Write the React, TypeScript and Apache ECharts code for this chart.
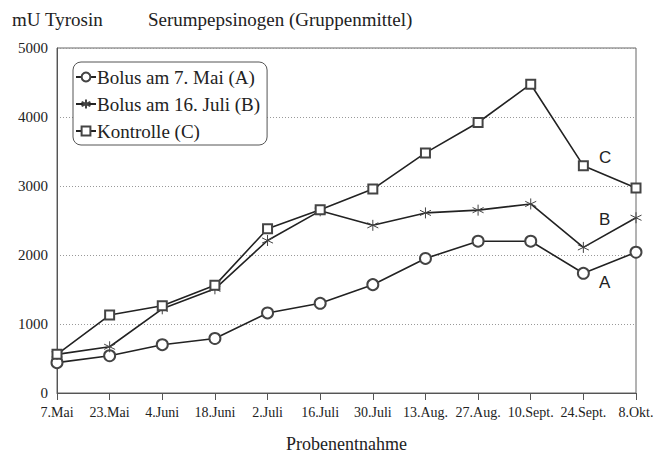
import React, { useEffect, useRef } from "react";
import * as echarts from "echarts";

const categories = ["7.Mai", "23.Mai", "4.Juni", "18.Juni", "2.Juli", "16.Juli", "30.Juli", "13.Aug.", "27.Aug.", "10.Sept.", "24.Sept.", "8.Okt."];
const seriesA = [440, 540, 700, 790, 1160, 1300, 1570, 1950, 2200, 2200, 1735, 2040];
const seriesB = [560, 670, 1220, 1510, 2210, 2640, 2430, 2610, 2650, 2740, 2110, 2540];
const seriesC = [560, 1130, 1265, 1560, 2380, 2655, 2955, 3480, 3920, 4475, 3295, 2970];
const seriesNames = ["Bolus am 7. Mai (A)", "Bolus am 16. Juli (B)", "Kontrolle (C)"];
const yTicks = [0, 1000, 2000, 3000, 4000, 5000];

const SERIF = "'Liberation Serif', 'DejaVu Serif', serif";
const SANS = "'Liberation Sans', Arial, sans-serif";
const INK = "#222";

const asterisk = "path://M5,0 L5,10 M0.8,2.6 L9.2,7.4 M0.8,7.4 L9.2,2.6";

export default function App() {
  const ref = useRef<HTMLDivElement>(null);
  useEffect(() => {
    if (!ref.current) return;
    const chart = echarts.init(ref.current, null, { renderer: "svg" });
    const mk = (name: string, data: number[], symbol: string, size: number) => ({
      name,
      type: "line",
      data,
      symbol,
      symbolSize: size,
      showAllSymbol: true,
      lineStyle: { color: INK, width: 1.6 },
      itemStyle: { color: "#444", borderColor: "#444", borderWidth: 1 },
      z: 3,
    });
    chart.setOption({
      animation: false,
      backgroundColor: "#fff",
      grid: {
        left: 57, right: 19, top: 48, bottom: 62,
        outerBoundsMode: "none",
        containLabel: false,
        show: true, borderColor: "#666", borderWidth: 1,
      },
      legend: {
        orient: "vertical",
        left: 73,
        top: 62,
        padding: [4, 7, 3, 2],
        itemGap: 5,
        itemWidth: 20,
        itemHeight: 11,
        borderColor: "#555",
        borderWidth: 1,
        borderRadius: 8,
        backgroundColor: "#fff",
        textStyle: { fontFamily: SERIF, fontSize: 19, lineHeight: 22, color: INK, padding: [0, 0, 0, -4] },
        data: seriesNames,
      },
      xAxis: {
        type: "category",
        data: categories,
        boundaryGap: false,
        name: "Probenentnahme",
        nameLocation: "middle",
        nameGap: 42,
        nameTextStyle: { fontFamily: SERIF, fontSize: 18, color: INK },
        axisLine: { lineStyle: { color: "#555" } },
        axisTick: { show: true, length: 7, inside: false, lineStyle: { color: "#555" } },
        axisLabel: { fontFamily: SERIF, fontSize: 14, color: INK, margin: 12, interval: 0 },
        splitLine: { show: false },
      },
      yAxis: {
        type: "value",
        min: yTicks[0],
        max: yTicks[yTicks.length - 1],
        interval: 1000,
        axisLine: { show: true, lineStyle: { color: "#555" } },
        axisTick: { show: false },
        axisLabel: { fontFamily: SERIF, fontSize: 15, color: INK, margin: 9, formatter: (v: number) => String(v) },
        splitLine: { show: true, lineStyle: { color: "#999", type: [1, 2], width: 1 } },
      },
      graphic: [
        { type: "text", left: 12, top: 10, style: { text: "mU Tyrosin", fontFamily: SERIF, fontSize: 19, fill: INK } },
        { type: "text", left: 148, top: 10, style: { text: "Serumpepsinogen (Gruppenmittel)", fontFamily: SERIF, fontSize: 19, fill: INK } },
        { type: "text", left: 599, top: 149, style: { text: "C", fontFamily: SANS, fontSize: 17, fill: INK } },
        { type: "text", left: 599, top: 211, style: { text: "B", fontFamily: SANS, fontSize: 17, fill: INK } },
        { type: "text", left: 599, top: 274, style: { text: "A", fontFamily: SANS, fontSize: 17, fill: INK } },
      ],
      series: [
        mk(seriesNames[0], seriesA, "emptyCircle", 11),
        mk(seriesNames[1], seriesB, asterisk, 11),
        mk(seriesNames[2], seriesC, "emptyRect", 9),
      ],
    });
    return () => chart.dispose();
  }, []);
  return <div ref={ref} style={{ width: 655, height: 455, position: "absolute", left: 0, top: 0 }} />;
}
